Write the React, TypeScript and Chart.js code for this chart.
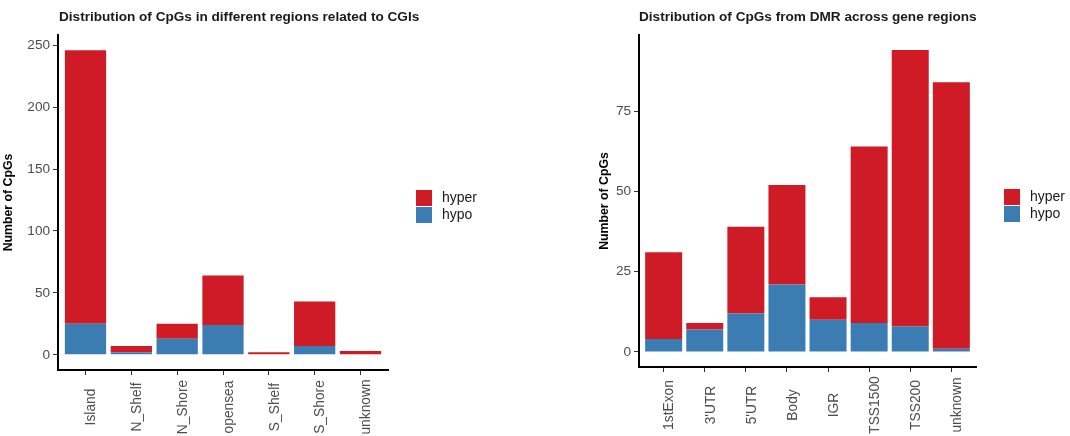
import React, { useEffect, useRef } from "react";
import { Chart, registerables } from "chart.js";

Chart.register(...registerables);

const LEFT_TITLE = "Distribution of CpGs in different regions related to CGIs";
const LEFT_CATS = ["Island", "N_Shelf", "N_Shore", "opensea", "S_Shelf", "S_Shore", "unknown"];
const LEFT_HYPO = [25, 2, 13, 24, 0, 7, 0];
const LEFT_HYPER = [221, 5, 12, 40, 2, 36, 3];
const LEFT_YTICKS = [0, 50, 100, 150, 200, 250];

const RIGHT_TITLE = "Distribution of CpGs from DMR across gene regions";
const RIGHT_CATS = ["1stExon", "3'UTR", "5'UTR", "Body", "IGR", "TSS1500", "TSS200", "unknown"];
const RIGHT_HYPO = [4, 7, 12, 21, 10, 9, 8, 1];
const RIGHT_HYPER = [27, 2, 27, 31, 7, 55, 86, 83];
const RIGHT_YTICKS = [0, 25, 50, 75];

const SERIES_NAMES = ["hyper", "hypo"];
const HYPER_COLOR = "#CE1B25";
const HYPO_COLOR = "#3B7CB2";
const FONT = "'Liberation Sans', Arial, Helvetica, sans-serif";

// centre the rotated category labels (ggplot hjust = 0.5) below the axis
const centerXLabels = {
  id: "centerXLabels",
  beforeDraw(chart: any, _args: any, opts: any) {
    const sc = chart.scales.x;
    if (!sc) return;
    const items = sc.getLabelItems();
    items.forEach((it: any, i: number) => {
      const lh = it.font && it.font.lineHeight ? it.font.lineHeight : 16;
      it.options.textAlign = "center";
      it.options.translation = [sc.getPixelForTick(i) - lh / 2 + (opts.dx || 0), sc.top + (opts.dy || 0)];
    });
  },
};

type PanelProps = {
  cats: string[];
  hypo: number[];
  hyper: number[];
  yticks: number[];
  width: number;
  height: number;
  yAxisWidth: number;
  xAxisHeight: number;
  padTop: number;
  padRight: number;
  yTitlePad: number;
  labelDy: number;
};

function Panel(p: PanelProps) {
  const ref = useRef<HTMLCanvasElement | null>(null);
  useEffect(() => {
    if (!ref.current) return;
    const totals = p.cats.map((_, i) => p.hypo[i] + p.hyper[i]);
    const maxT = Math.max(...totals);
    const n = p.cats.length;
    const chart = new Chart(ref.current, {
      type: "bar",
      data: {
        datasets: [
          {
            label: "hypo",
            data: p.cats.map((_, i) => ({ x: i + 1, y: p.hypo[i] })),
            backgroundColor: HYPO_COLOR,
            borderWidth: 0,
            categoryPercentage: 0.9,
            barPercentage: 1,
          },
          {
            label: "hyper",
            data: p.cats.map((_, i) => ({ x: i + 1, y: p.hyper[i] })),
            backgroundColor: HYPER_COLOR,
            borderWidth: 0,
            categoryPercentage: 0.9,
            barPercentage: 1,
          },
        ],
      },
      plugins: [centerXLabels],
      options: {
        animation: false,
        responsive: false,
        layout: { padding: { top: p.padTop, right: p.padRight, left: 0, bottom: 0 } },
        plugins: {
          legend: { display: false },
          title: { display: false },
          tooltip: { enabled: false },
          centerXLabels: { dx: 6, dy: p.labelDy },
        },
        scales: {
          x: {
            type: "linear",
            stacked: true,
            offset: false,
            min: 0.4,
            max: n + 0.6,
            afterBuildTicks: (s: any) => {
              s.ticks = p.cats.map((_, i) => ({ value: i + 1 }));
            },
            afterFit: (s: any) => {
              s.height = p.xAxisHeight;
            },
            ticks: {
              autoSkip: false,
              maxRotation: 90,
              minRotation: 90,
              padding: 8,
              color: "#4d4d4d",
              font: { family: FONT, size: 13.8 },
              callback: (v: any) => p.cats[Number(v) - 1] ?? "",
            },
            grid: { offset: false, drawOnChartArea: false, drawTicks: true, tickLength: 5, tickColor: "#333333", tickWidth: 1 },
            border: { display: true, color: "#000000", width: 2 },
          },
          y: {
            type: "linear",
            stacked: true,
            min: -0.05 * maxT,
            max: 1.05 * maxT,
            afterBuildTicks: (s: any) => {
              s.ticks = p.yticks.map((v) => ({ value: v }));
            },
            afterFit: (s: any) => {
              s.width = p.yAxisWidth;
            },
            ticks: {
              padding: 3,
              color: "#4d4d4d",
              font: { family: FONT, size: 13.6 },
            },
            title: {
              display: true,
              text: "Number of CpGs",
              color: "#000000",
              font: { family: FONT, size: 12.3, weight: "bold" },
              padding: { top: p.yTitlePad, bottom: 0 },
            },
            grid: { drawOnChartArea: false, drawTicks: true, tickLength: 5, tickColor: "#333333", tickWidth: 1 },
            border: { display: true, color: "#000000", width: 2 },
          },
        },
      },
    } as any);
    return () => chart.destroy();
  }, []);
  return <canvas ref={ref} width={p.width} height={p.height} style={{ display: "block" }} />;
}

function Legend({ left, top }: { left: number; top: number }) {
  const colors = [HYPER_COLOR, HYPO_COLOR];
  return (
    <div style={{ position: "absolute", left, top, fontFamily: FONT, fontSize: 14, color: "#1a1a1a" }}>
      {SERIES_NAMES.map((name, i) => (
        <div key={name} style={{ display: "flex", alignItems: "center", height: 17 }}>
          <div style={{ width: 16, height: 16, background: colors[i], marginRight: 10 }} />
          <span style={{ lineHeight: "17px" }}>{name}</span>
        </div>
      ))}
    </div>
  );
}

const titleStyle: React.CSSProperties = {
  position: "absolute",
  top: 9,
  fontFamily: FONT,
  fontWeight: "bold",
  fontSize: 13.6,
  color: "#1a1a1a",
  whiteSpace: "nowrap",
};

export default function App() {
  return (
    <div style={{ position: "fixed", left: 0, top: 0, width: 1070, height: 436, background: "#fff", overflow: "hidden" }}>
      <div style={{ position: "absolute", left: 0, top: 0 }}>
        <Panel
          cats={LEFT_CATS}
          hypo={LEFT_HYPO}
          hyper={LEFT_HYPER}
          yticks={LEFT_YTICKS}
          width={535}
          height={436}
          yAxisWidth={58}
          xAxisHeight={66}
          padTop={35}
          padRight={147}
          yTitlePad={1}
          labelDy={37}
        />
      </div>
      <div style={{ position: "absolute", left: 535, top: 0 }}>
        <Panel
          cats={RIGHT_CATS}
          hypo={RIGHT_HYPO}
          hyper={RIGHT_HYPER}
          yticks={RIGHT_YTICKS}
          width={535}
          height={436}
          yAxisWidth={104}
          xAxisHeight={69}
          padTop={35}
          padRight={94}
          yTitlePad={62}
          labelDy={38}
        />
      </div>
      <div style={{ ...titleStyle, left: 59 }}>{LEFT_TITLE}</div>
      <div style={{ ...titleStyle, left: 639 }}>{RIGHT_TITLE}</div>
      <Legend left={416} top={189} />
      <Legend left={1004} top={188} />
    </div>
  );
}
